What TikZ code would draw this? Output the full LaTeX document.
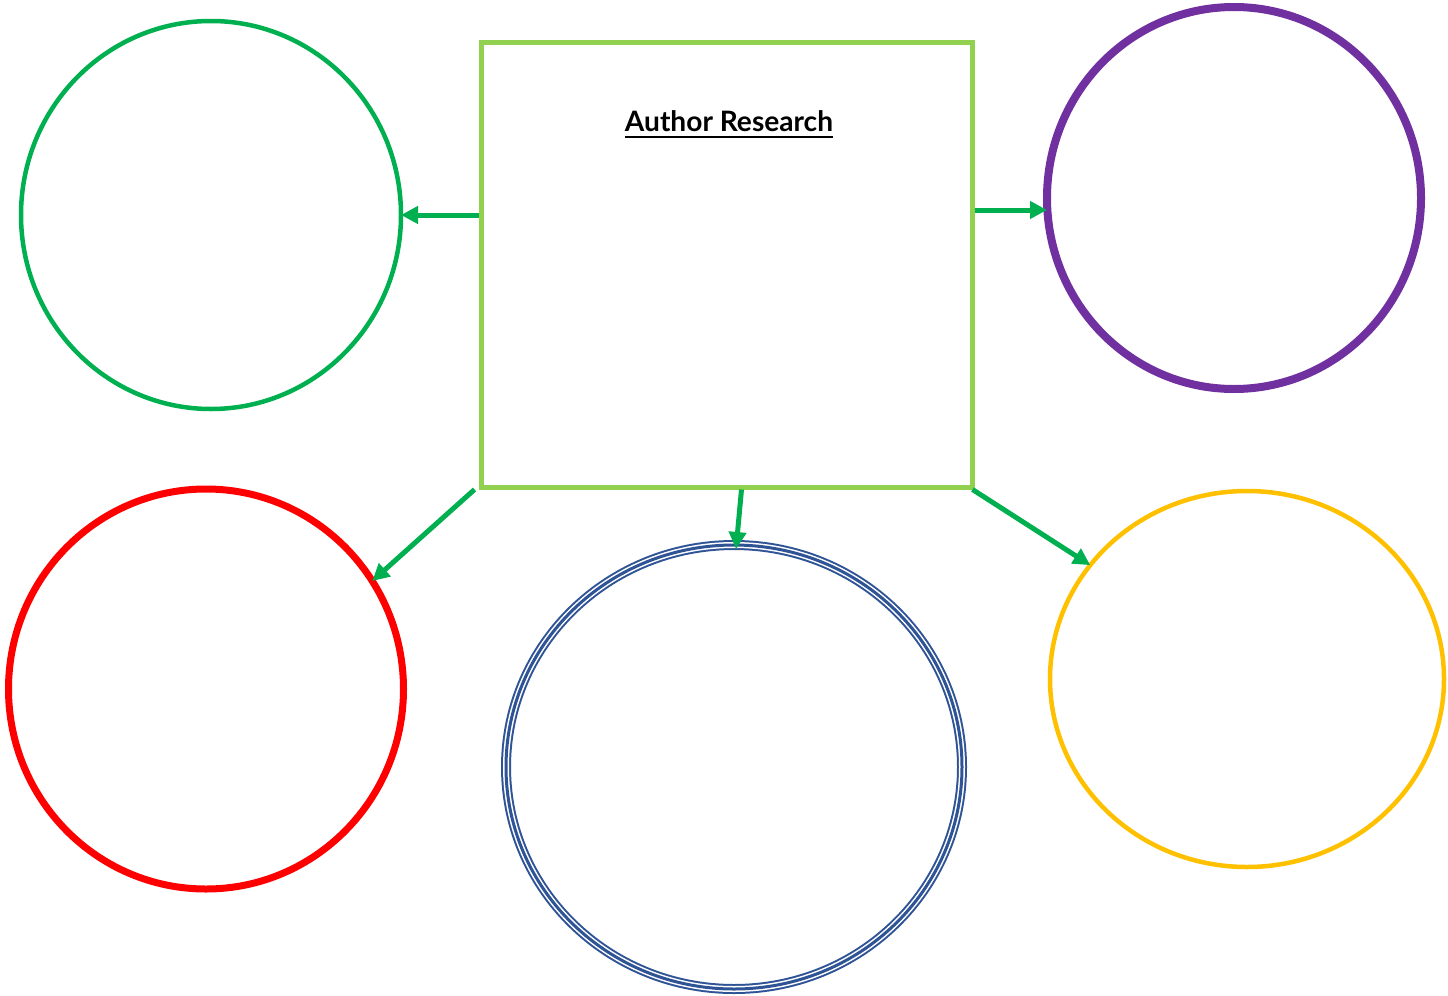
\documentclass[tikz,border=0pt]{standalone}
\usepackage{fontspec}
\setmainfont{Lato}
\usetikzlibrary{shapes.geometric,arrows.meta}
\definecolor{boxgreen}{RGB}{146,208,80}
\definecolor{arrgreen}{RGB}{0,176,80}
\definecolor{ringpurple}{RGB}{112,48,160}
\definecolor{ringblue}{RGB}{47,84,150}
\definecolor{ringyellow}{RGB}{255,192,0}
\begin{document}
\begin{tikzpicture}[x=0.1mm,y=-0.1mm]
% pixel unit
\def\px{0.1mm}
% node style definition
\tikzstyle{ring} = [
	draw, ellipse, inner sep=0pt, outer sep=0pt ];
\tikzstyle{link} = [
	draw=arrgreen, line width=5*\px,
	-{Triangle[length=17*\px,width=17*\px]} ];
\useasboundingbox (0,0) rectangle (1448,995);

% centre box
\node[draw=boxgreen, line width=5*\px, rectangle, minimum width=491*\px,
	minimum height=445*\px, inner sep=0pt] (main) at (726.5,264.5) {};
\node[font=\bfseries\fontsize{8}{10}\selectfont] (title) at (729,125)
	{\underline{Author Research}};

% the five rings
\node[ring, draw=arrgreen, line width=4.5*\px,
	minimum width=380*\px, minimum height=388*\px] (green) at (211,215) {};
\node[ring, draw=ringpurple, line width=8*\px,
	minimum width=374*\px, minimum height=382*\px] (purple) at (1234,198) {};
\node[ring, draw=red, line width=7*\px,
	minimum width=395*\px, minimum height=400*\px] (red) at (206,689) {};
\node[ring, draw=ringyellow, line width=4.5*\px,
	minimum width=394*\px, minimum height=376*\px] (yellow) at (1247,679) {};
% triple line ring
\node[ring, draw=ringblue, line width=10*\px,
	minimum width=456*\px, minimum height=444*\px] (blue) at (734,767) {};
\node[ring, draw=white, line width=6*\px,
	minimum width=456*\px, minimum height=444*\px] at (734,767) {};
\node[ring, draw=ringblue, line width=3*\px,
	minimum width=456*\px, minimum height=444*\px] at (734,767) {};

% arrows
\draw[link] (main.west |- green.east) -- (green.east);
\draw[link] (main.east |- purple.west) ++(0,12) coordinate (pr) -- (purple.west |- pr);
\draw[link] ([xshift=-4*\px]main.south west) -- (red.33.8);
\draw[link] ([xshift=15*\px]main.south) -- ([xshift=2*\px,yshift=-4*\px]blue.north);
\draw[link] ([xshift=-2*\px]main.south east) -- (yellow.144.8);
\end{tikzpicture}
\end{document}
